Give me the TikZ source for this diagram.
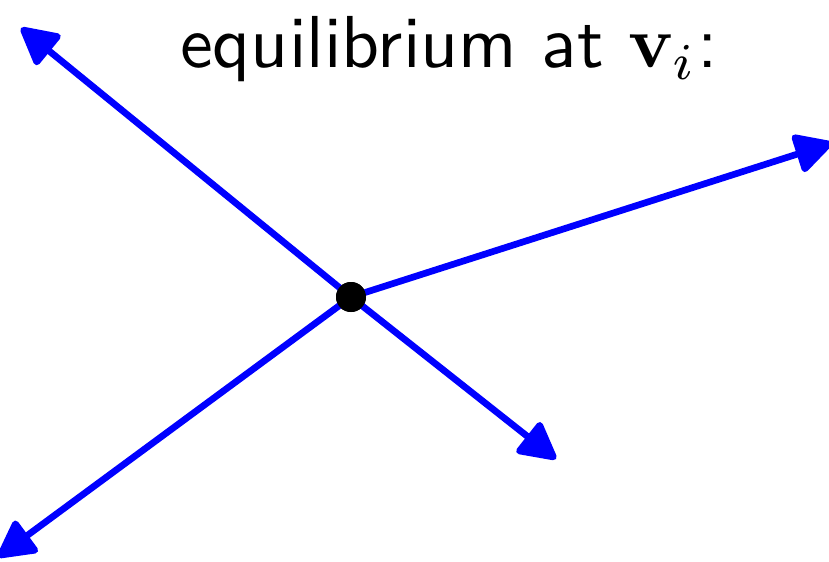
\documentclass[tikz,border=0pt]{standalone}
\usepackage{tikz}
\usetikzlibrary{arrows.meta}
\tikzset{
  force/.style={-{Triangle[round,length=0.82cm,width=0.84cm]},line width=3.8pt,blue},
  vertex/.style={circle,fill=black,inner sep=0pt,minimum size=0.6cm},
  title/.style={font=\sffamily,scale=4.19,anchor=base}
}

\begin{document}
\begin{tikzpicture}
      \useasboundingbox (0,0) rectangle (16.58,11.22);
      \node[title] (label) at (8.98,9.86) {equilibrium at $\mathbf{v}_i$:};

      \node[vertex] (vi) at (7.02,5.28) {};
      \coordinate (f1) at (0.42,10.66);
      \coordinate (f2) at (16.64,8.36);
      \coordinate (f3) at (11.12,2.04);
      \coordinate (f4) at (-0.04,0.08);

      \foreach \f in {f1,f2,f3,f4}
        \draw[force] (vi.center) -- (\f);
      \node[vertex] at (vi) {};
    \end{tikzpicture}
\end{document}
